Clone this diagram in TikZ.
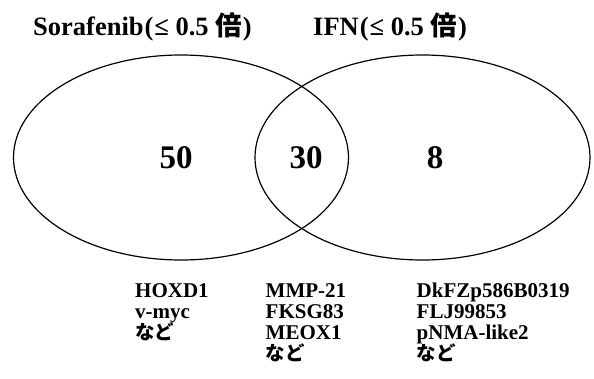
\documentclass[tikz,border=0pt]{standalone}
\usepackage{fontspec}
\setmainfont{Liberation Serif}
\newfontfamily\cjk{Noto Sans CJK JP}
\usetikzlibrary{shapes.geometric}

\tikzset{
  vennset/.style={ellipse, draw=black, line width=1.2pt, inner sep=0pt,
                  minimum width=335pt, minimum height=205pt},
  settitle/.style={anchor=base west, inner sep=0pt,
                   font=\fontsize{26.5}{30}\selectfont\bfseries},
  count/.style={inner sep=0pt, font=\fontsize{33}{36}\selectfont\bfseries},
  gene/.style={anchor=base west, inner sep=0pt,
               font=\fontsize{21}{24}\selectfont\bfseries},
}
% Japanese "etc." line under each gene list
\newcommand{\etcjp}{{\cjk\bfseries\fontsize{19.5}{24}\selectfont など}}

\begin{document}
\begin{tikzpicture}[x=1pt, y=-1pt]
  \useasboundingbox (0,0) rectangle (594,378);

  % the two gene sets
  \node[vennset] (sora) at (181,157.5) {};
  \node[vennset] (ifn)  at (422.5,157.5) {};

  % set titles
  \node[settitle] (soratitle) at (33,35)
    {Sorafenib\kern1pt(\kern1pt≤\ 0.5\ {\cjk\bfseries 倍}\kern1pt)};
  \node[settitle] (ifntitle) at (313,35)
    {IFN\kern1pt(\kern1pt≤\ 0.5\ {\cjk\bfseries 倍}\kern1pt)};

  % counts per region
  \node[count] (onlysora) at (176,158) {50};
  \node[count] (both)     at (306,158) {30};
  \node[count] (onlyifn)  at (435,158) {8};

  % example genes per region
  \node[gene] (g1a) at (135,297.5) {HOXD1};
  \node[gene] (g1b) at (135,318.5) {v-myc};
  \node[gene] (g1c) at (135,339.5) {\etcjp};

  \node[gene] (g2a) at (265.5,297.5) {MMP-21};
  \node[gene] (g2b) at (265.5,318.5) {FKSG83};
  \node[gene] (g2c) at (265.5,339.5) {MEOX1};
  \node[gene] (g2d) at (265.5,360.5) {\etcjp};

  \node[gene] (g3a) at (416.5,297.5) {DkFZp586B0319};
  \node[gene] (g3b) at (416.5,318.5) {FLJ99853};
  \node[gene] (g3c) at (416.5,339.5) {pNMA-like2};
  \node[gene] (g3d) at (416.5,360.5) {\etcjp};
\end{tikzpicture}
\end{document}
